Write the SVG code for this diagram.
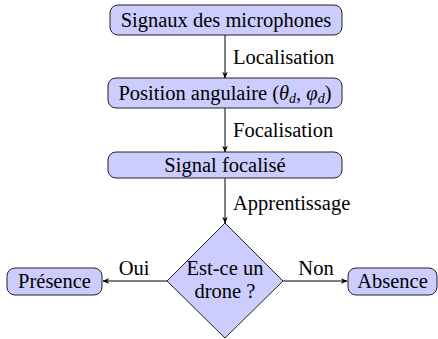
<svg xmlns="http://www.w3.org/2000/svg" width="438" height="339" viewBox="0 0 438 339">
<defs>
<marker id="ah" viewBox="0 0 10 10" refX="9" refY="5" markerWidth="7" markerHeight="7" markerUnits="userSpaceOnUse" orient="auto">
<path d="M0,1 L10,5 L0,9 L3,5 Z" fill="#000"/>
</marker>
</defs>
<style>
.n{fill:#ccccff;stroke:#222;stroke-width:1}
.t{font-size:20.5px;fill:#000}
.c{stroke:#000;stroke-width:1;fill:none;marker-end:url(#ah)}
</style>
<rect width="438" height="339" fill="#fff"/>
<g font-family="'Liberation Serif', 'Times New Roman', Times, serif">
<g id="connectors">
<line class="c" x1="225" y1="35" x2="225" y2="78"/>
<line class="c" x1="225" y1="108" x2="225" y2="152"/>
<line class="c" x1="225" y1="178" x2="225" y2="223"/>
<line class="c" x1="167" y1="281" x2="103" y2="281"/>
<line class="c" x1="283" y1="281" x2="347" y2="281"/>
<text class="t" x="233" y="64">Localisation</text>
<text class="t" x="233" y="137">Focalisation</text>
<text class="t" x="233" y="210">Apprentissage</text>
<text class="t" x="134" y="275" text-anchor="middle">Oui</text>
<text class="t" x="316" y="275" text-anchor="middle">Non</text>
</g>
<g id="n1">
<rect class="n" x="110" y="5" width="232" height="30" rx="8"/>
<text class="t" x="226" y="27" text-anchor="middle">Signaux des microphones</text>
</g>
<g id="n2">
<rect class="n" x="108" y="78" width="234" height="30" rx="8"/>
<text class="t" x="225" y="100" text-anchor="middle">Position angulaire (<tspan font-style="italic">θ</tspan><tspan font-style="italic" font-size="14" dy="3">d</tspan><tspan dy="-3">, </tspan><tspan font-style="italic">φ</tspan><tspan font-style="italic" font-size="14" dy="3">d</tspan><tspan dy="-3">)</tspan></text>
</g>
<g id="n3">
<rect class="n" x="108" y="152" width="234" height="26" rx="8"/>
<text class="t" x="225" y="172" text-anchor="middle">Signal focalisé</text>
</g>
<g id="n4">
<polygon class="n" points="225,223 283,281 225,338 167,281"/>
<text class="t" x="225" y="275" text-anchor="middle">Est-ce un</text>
<text class="t" x="225" y="298" text-anchor="middle">drone ?</text>
</g>
<g id="n5">
<rect class="n" x="7" y="268" width="95" height="27" rx="8"/>
<text class="t" x="54.5" y="288" text-anchor="middle">Présence</text>
</g>
<g id="n6">
<rect class="n" x="348" y="268" width="89" height="27" rx="8"/>
<text class="t" x="392.5" y="288" text-anchor="middle">Absence</text>
</g>
</g>
</svg>
